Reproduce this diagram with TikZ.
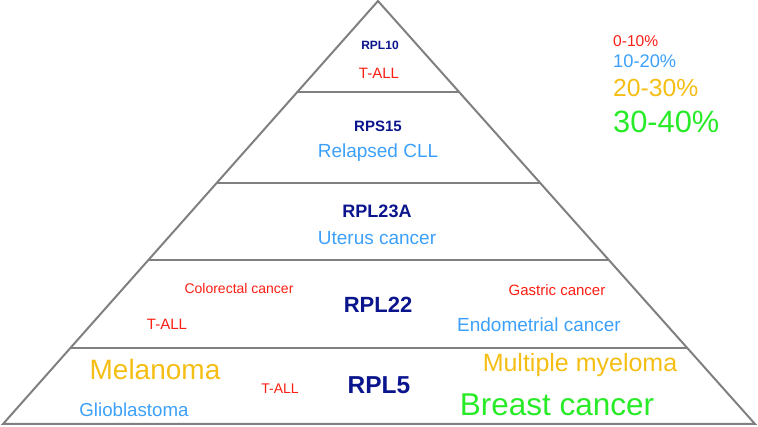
\documentclass[tikz,border=0pt]{standalone}
\usepackage{fontspec}
\setmainfont{Liberation Sans}
\usepackage{tikz}
\usetikzlibrary{positioning,calc}

\definecolor{genecol}{RGB}{10,20,140}
\definecolor{redcol}{RGB}{250,30,20}
\definecolor{bluecol}{RGB}{60,160,250}
\definecolor{yellowcol}{RGB}{245,190,20}
\definecolor{greencol}{RGB}{40,235,40}

\newcommand{\sz}[1]{\fontsize{#1}{#1}\selectfont}

\begin{document}
\begin{tikzpicture}[
x=1pt,y=-1pt,
level/.style={
draw=gray,
line width=2pt
},
gene/.style={
inner sep=0pt,
color=genecol,
font=\bfseries
},
ptext/.style={
inner sep=0pt,
draw=none,
fill=none
},
low/.style={ptext, color=redcol},
mid/.style={ptext, color=bluecol},
high/.style={ptext, color=yellowcol},
top/.style={ptext, color=greencol},
key/.style={anchor=west}
]

\useasboundingbox (0,0) rectangle (758,427);

% pyramid
\coordinate (apex) at (378,1);
\coordinate (bl) at (3,424);
\coordinate (br) at (755,424);
\draw[level, line join=miter] (apex) -- (bl) -- (br) -- cycle;
\foreach \y/\n in {92/a,183/b,260/c,348/d} {
  \coordinate (l\n) at ($(apex)!{(\y-1)/423}!(bl)$);
  \coordinate (r\n) at ($(apex)!{(\y-1)/423}!(br)$);
  \draw[level] (l\n) -- (r\n);
}

% tier 1
\node [gene] (rpl10) at (380,45) {\sz{12}RPL10};
\node [low] (tall1) at (379,73) {\sz{15}T-ALL};

% tier 2
\node [gene] (rps15) at (378,126) {\sz{15}RPS15};
\node [mid] (cll) at (378,153) {\sz{19}Relapsed CLL};

% tier 3
\node [gene] (rpl23a) at (377,211) {\sz{18}RPL23A};
\node [mid] (uterus) at (377,238) {\sz{19}Uterus cancer};

% tier 4
\node [gene] (rpl22) at (378,305) {\sz{22}RPL22};
\node [low] (colo) at (239,288) {\sz{14}Colorectal cancer};
\node [low] (gastric) at (557,290) {\sz{15}Gastric cancer};
\node [low] (tall2) at (167,324) {\sz{15}T-ALL};
\node [mid] (endo) at (539,325) {\sz{19}Endometrial cancer};

% tier 5
\node [gene] (rpl5) at (379,385) {\sz{24.5}RPL5};
\node [high] (mela) at (155,369) {\sz{28}Melanoma};
\node [low] (tall3) at (280,389) {\sz{14}T-ALL};
\node [mid] (glio) at (134,410) {\sz{18.7}Glioblastoma};
\node [high] (myel) at (580,365) {\sz{25}Multiple myeloma};
\node [top] (breast) at (557,405) {\sz{31.5}Breast cancer};

% legend
\node [low, key] (k1) at (613,41) {\sz{15.6}0-10\%};
\node [mid, key] (k2) at (613,61) {\sz{18.3}10-20\%};
\node [high, key] (k3) at (613,88) {\sz{24.7}20-30\%};
\node [top, key] (k4) at (613,122) {\sz{30.8}30-40\%};

\end{tikzpicture}
\end{document}
